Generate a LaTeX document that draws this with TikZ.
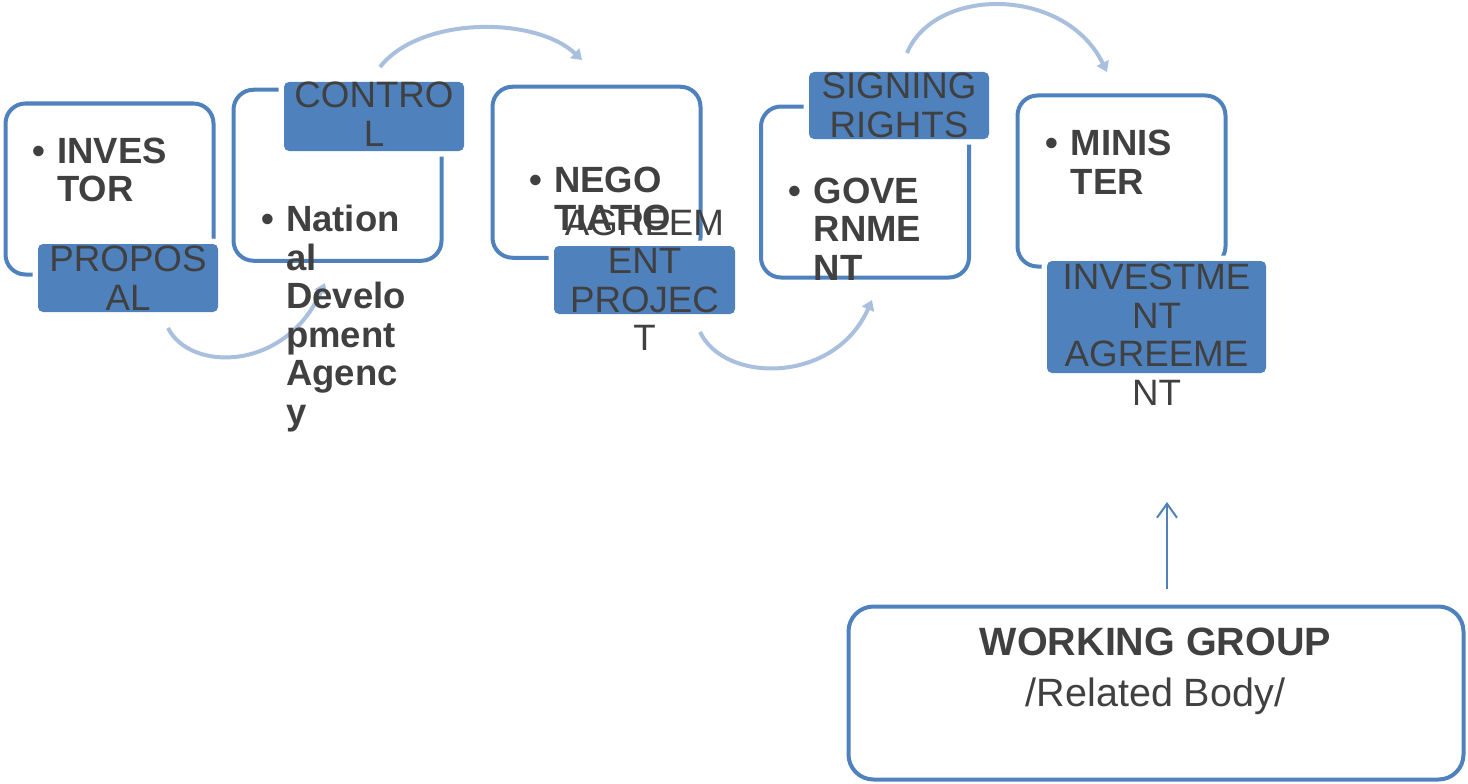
\documentclass[tikz,border=0pt]{standalone}
\usepackage{fontspec}
\setmainfont{Liberation Sans}
\usetikzlibrary{arrows.meta}

\definecolor{frameblue}{HTML}{4F81BD}
\definecolor{arcblue}{HTML}{A9BFDE}
\definecolor{inkgray}{HTML}{404040}

\newcommand{\bul}{\llap{\textbullet\hspace{12pt}}}

\begin{document}
\begin{tikzpicture}[x=1pt, y=-1pt,
  stage/.style={draw=frameblue, line width=4pt, rounded corners=20pt,
    minimum width=208pt, minimum height=171pt, inner sep=0pt},
  stagetext/.style={inkgray, align=left, inner sep=0pt, anchor=base west,
    font=\bfseries\fontsize{36.5}{38.5}\selectfont},
  tagbox/.style={fill=frameblue, rounded corners=5pt, inner sep=0pt,
    preaction={draw=white, line width=11pt}},
  tagtext/.style={inkgray, align=center, inner sep=0pt,
    font=\fontsize{36.7}{38.5}\selectfont},
  flow/.style={arcblue, line width=4pt, -{Triangle[length=10pt,width=13pt]}}]
  \useasboundingbox (0,0) rectangle (1468,784);

  % curved arrows between the stages
  \coordinate (a1s) at (168,328);  \coordinate (a1e) at (325,283);
  \coordinate (a2s) at (380,67);   \coordinate (a2e) at (582,60);
  \coordinate (a3s) at (700,332);  \coordinate (a3e) at (872,300);
  \coordinate (a4s) at (907,53);   \coordinate (a4e) at (1107,72);
  \draw[flow] (a1s) .. controls (190,372) and (285,372) .. (a1e);
  \draw[flow] (a2s) .. controls (420,16) and (535,16) .. (a2e);
  \draw[flow] (a3s) .. controls (725,384) and (835,384) .. (a3e);
  \draw[flow] (a4s) .. controls (935,-14) and (1065,-14) .. (a4e);

  % stage frames
  \node[stage] (investor) at (109.5,189) {};
  \node[stage] (nda) at (337.5,175.25) {};
  \node[stage] (nego) at (596.5,172.25) {};
  \node[stage] (gov) at (865,192) {};
  \node[stage] (minister) at (1121.5,181) {};

  % bullet texts (base = last line)
  \node[stagetext] (investorT) at (57,201.5) {\bul INVES\\TOR};
  \node[stagetext] (ndaT) at (286,424) {\bul Nation\\al\\Develo\\pment\\Agenc\\y};
  \node[stagetext] (negoT) at (554,230.5) {\bul NEGO\\TIATIO};
  \node[stagetext] (govT) at (813.5,280) {\bul GOVE\\RNME\\NT};
  \node[stagetext] (ministerT) at (1070.5,194) {\bul MINIS\\TER};

  % step labels
  \node[tagbox, minimum width=180pt, minimum height=68pt] (proposal) at (128,278) {};
  \node[tagtext] (proposalT) at (proposal) {PROPOS\\AL};
  \node[tagbox, minimum width=180pt, minimum height=69pt] (control) at (374,116.5) {};
  \node[tagtext, yshift=2.5pt] (controlT) at (control) {CONTRO\\L};
  \node[tagbox, minimum width=181pt, minimum height=68pt] (agreement) at (644.5,280) {};
  \node[tagtext] (agreementT) at (agreement) {AGREEM\\ENT\\PROJEC\\T};
  \node[tagbox, minimum width=180pt, minimum height=67pt] (signing) at (899,105.5) {};
  \node[tagtext] (signingT) at (signing) {SIGNING\\RIGHTS};
  \node[tagbox, minimum width=219pt, minimum height=112pt] (investment) at (1156.5,317) {};
  \node[tagtext, yshift=-17.5pt] (investmentT) at (investment) {INVESTME\\NT\\AGREEME\\NT};

  % working group
  \node[stage, minimum width=615pt, minimum height=173pt, rounded corners=25pt] (wg) at (1156,693) {};
  \node[inkgray, align=center, inner sep=0pt, anchor=base,
    font=\fontsize{39.5}{38.5}\selectfont] (wgT) at (1155.5,706)
    {\textbf{WORKING GROUP}\\[12.5pt]/Related Body/};
  \coordinate (wgtip) at (1167,502);
  \draw[frameblue, line width=2pt, -{Straight Barb[length=14pt,width=20pt]},
    shorten <=15.5pt] (wg.north -| wgtip) -- (wgtip);
\end{tikzpicture}
\end{document}
